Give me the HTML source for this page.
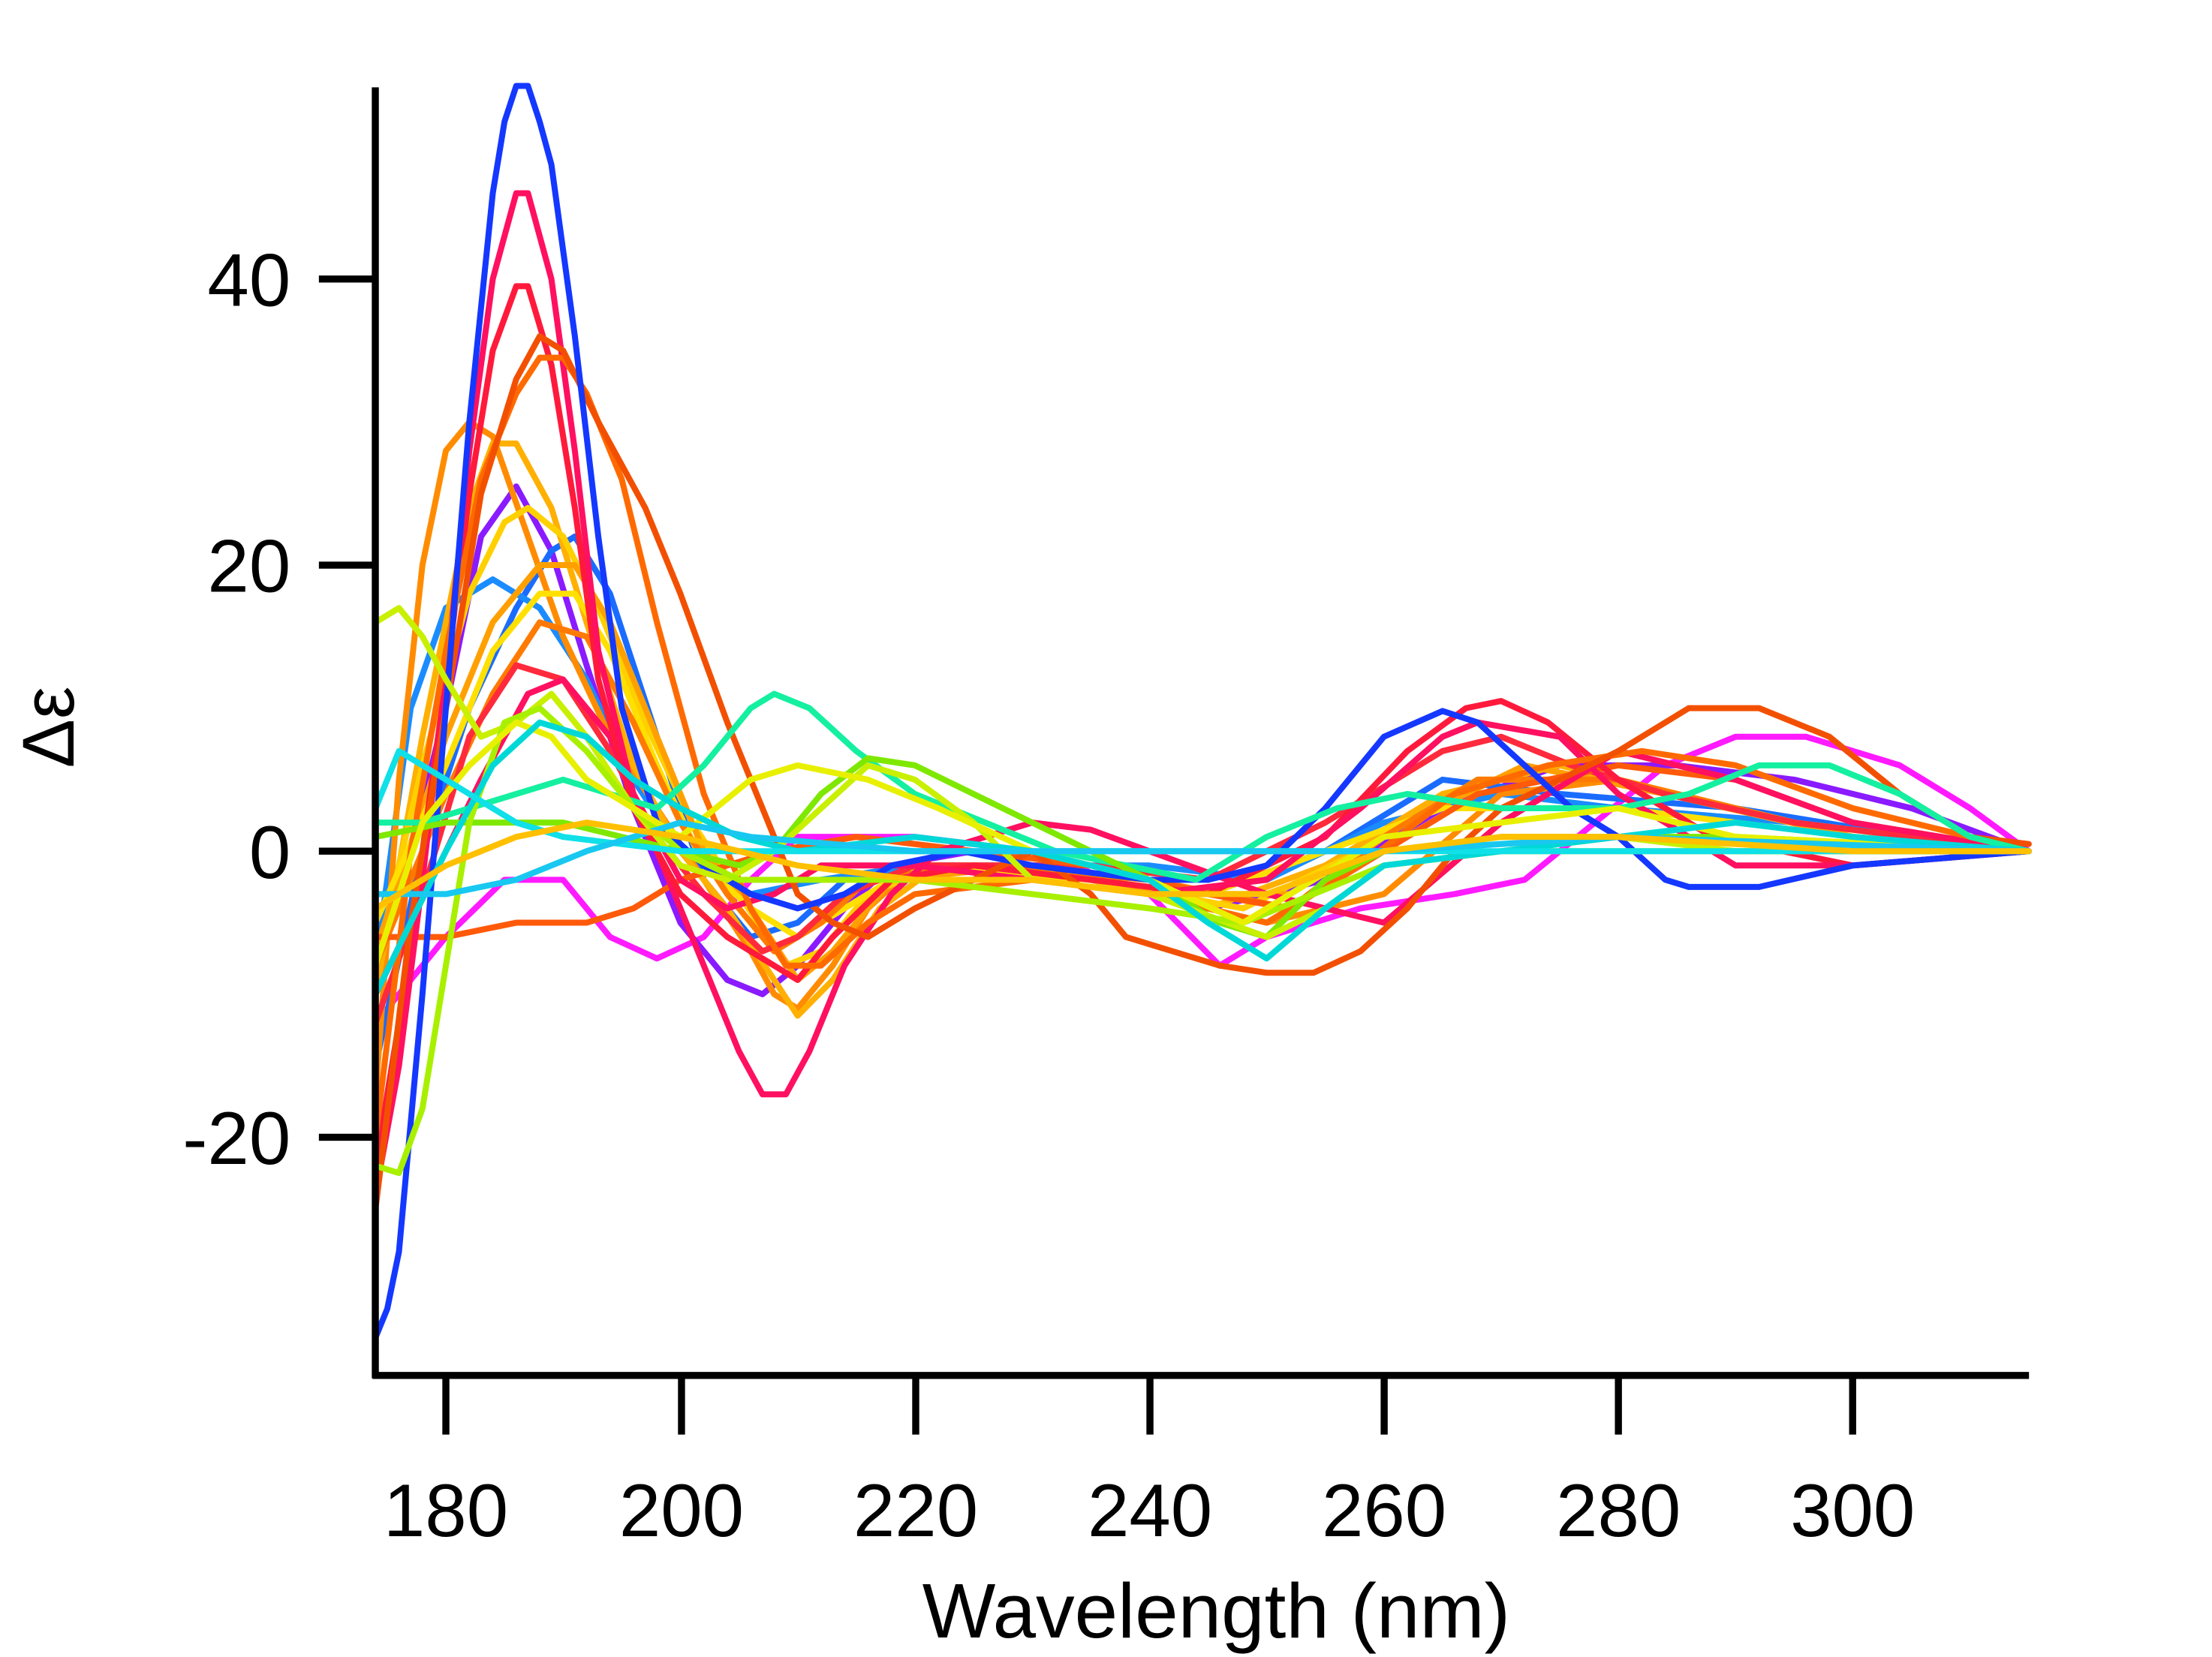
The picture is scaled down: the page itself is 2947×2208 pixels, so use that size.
<!DOCTYPE html>
<html><head><meta charset="utf-8"><style>
html,body{margin:0;padding:0;background:#fff}
svg{display:block}
text{font-family:"Liberation Sans",Arial,sans-serif;fill:#000}
</style></head><body>
<svg width="2947" height="2208" viewBox="0 0 1567.7 1175.8" preserveAspectRatio="none">
<rect width="1568" height="1176" fill="#fff"/>
<defs><clipPath id="c"><rect x="268" y="40" width="1172" height="934"/></clipPath></defs>
<g clip-path="url(#c)">
<g transform="translate(316,604) scale(8.31,-10.15)" fill="none" stroke-width="8" stroke-linejoin="round" stroke-linecap="round">
<polyline vector-effect="non-scaling-stroke" stroke="#ff1aff" points="-6,-12 0,-6 5,-2 10,-2 14,-6 18,-7.5 22,-6 26,-2 30,1 40,1 50,0 60,-3 66,-8 70,-6 78,-4 86,-3 92,-2 98,2 104,6 110,8 116,8 124,6 130,3 135,0"/>
<polyline vector-effect="non-scaling-stroke" stroke="#8a1aff" points="-6,-6 -3,0 0,10 3,22 6,25.5 9,21 12,13 16,3 20,-5 24,-9 27,-10 30,-8 34,-4 38,-1 45,0 55,-2 65,-4 75,-2 85,3 95,6 105,6 115,5 125,3 135,0"/>
<polyline vector-effect="non-scaling-stroke" stroke="#1a6cff" points="-6,-15 -2,0 2,10 6,17 9,21 11,22 14,18 18,8 22,-2 26,-6 30,-5 34,-2 40,-1 55,-1 65,-3 75,0 85,5 95,4 110,3 125,1 135,0"/>
<polyline vector-effect="non-scaling-stroke" stroke="#1a8cff" points="-6,-8 -3,10 0,17 4,19 8,17 12,12 16,5 20,0 26,-3 32,-2 40,-1 60,-1 70,-2 80,2 90,4 100,3 115,2 135,0"/>
<polyline vector-effect="non-scaling-stroke" stroke="#ff8c00" points="-6,-17 -4,5 -2,20 0,28 2,30 4,29 7,22 10,15 14,8 18,3 22,-2 26,-7 28,-10 30,-11 33,-8 36,-4 40,-1 50,-1 60,-3 70,-5 80,-3 90,4 100,5 110,3 120,1 135,0"/>
<polyline vector-effect="non-scaling-stroke" stroke="#ffb000" points="-6,-10 -2,8 2,24 4,28.5 6,28.5 9,24 12,16 16,6 20,0 24,-4 28,-9 30,-11.5 33,-9 37,-4 42,-1 55,-2 65,-4 75,-1 85,4 95,6 105,4 120,1 135,0"/>
<polyline vector-effect="non-scaling-stroke" stroke="#ffd000" points="-6,-8 -2,6 2,18 5,23 7,24 10,22 13,17 17,9 21,2 25,-3 29,-8 32,-7 36,-3 42,-1 55,-2 68,-4 78,0 88,5 100,5 115,2 135,0"/>
<polyline vector-effect="non-scaling-stroke" stroke="#ffa000" points="-6,-7 0,8 4,16 8,20 11,20 14,16 18,8 22,0 26,-4 30,-9 33,-7 38,-2 50,-1 62,-3 72,-3 82,2 92,6 104,4 120,1 135,0"/>
<polyline vector-effect="non-scaling-stroke" stroke="#ffe000" points="-6,-5 0,6 4,14 8,18 11,18 14,14 18,6 22,-1 26,-4 30,-6 34,-4 40,-1 55,-2 65,-3 75,0 85,3 100,3 120,1 135,0"/>
<polyline vector-effect="non-scaling-stroke" stroke="#ff7a00" points="-6,-8 0,4 4,11 8,16 12,15 16,9 20,2 24,-3 28,-7 32,-5 36,-2 45,-1 60,-2 72,-4 80,1 88,5 100,5 115,2 135,0"/>
<polyline vector-effect="non-scaling-stroke" stroke="#ff2a3c" points="-6,-12 -2,-3 2,8 6,13 10,12 14,7 18,1 22,-3 27,-7 30,-6 34,-3 40,-1 55,-1 65,-2 75,2 85,7 90,8 96,6 104,4 115,2 135,0"/>
<polyline vector-effect="non-scaling-stroke" stroke="#ff5a0a" points="-6,-6 0,-6 6,-5 12,-5 16,-4 20,-2 24,-1 28,0 35,1 45,0 55,-1 65,-3 72,-4 80,0 88,4 100,6 110,5 120,2 135,0"/>
<polyline vector-effect="non-scaling-stroke" stroke="#ff1060" points="-6,-10 -3,-5 0,0 3,5 7,11 10,12 14,8 18,0 22,-8 25,-14 27,-17 29,-17 31,-14 34,-8 38,-3 42,0 50,2 55,1.5 60,0 70,-3 80,-5 90,2 100,7 110,5 120,2 135,0"/>
<polyline vector-effect="non-scaling-stroke" stroke="#ff1a3c" points="-6,-22 -4,-12 -2,0 0,12 2,25 4,35 6,39.5 7,39.5 9,34 11,24 13,12 16,3 20,-3 24,-6 28,-8 30,-9 33,-6 38,-2 45,-1 55,-2 65,-3 75,1 82,7 87,10 90,10.5 94,9 100,5 108,1 120,-1 135,0"/>
<polyline vector-effect="non-scaling-stroke" stroke="#ff1060" points="-6,-24 -4,-15 -2,-2 0,12 2,28 4,40 6,46 7,46 9,40 11,28 13,14 16,4 20,-2 24,-4 28,-3 32,-1 40,-1 50,-2 60,-3 70,-2 78,3 85,8 88,9 95,8 100,4 110,-1 120,-1 135,0"/>
<polyline vector-effect="non-scaling-stroke" stroke="#ff6a00" points="-6,-20 -3,0 0,14 3,26 6,32 8,34.5 10,34.5 12,32 15,26 18,16 22,4 26,-4 29,-8 32,-8 36,-5 40,-3 50,-2 60,-3 70,-5 78,-1 86,4 94,6 102,7 110,6 120,3 135,0"/>
<polyline vector-effect="non-scaling-stroke" stroke="#f25000" points="-6,-25 -3,-5 0,10 3,25 6,33 8,36 10,35 13,30 17,24 20,18 24,9 28,1 30,-3 33,-5 36,-6 40,-4 45,-2 50,0 55,-3 58,-6 62,-7 66,-8 70,-8.5 74,-8.5 78,-7 82,-4 86,0 90,3 95,5 100,7 106,10 112,10 118,8 124,4 130,1 135,0.5"/>
<polyline vector-effect="non-scaling-stroke" stroke="#1438ff" points="-6,-34 -5,-32 -4,-28 -2,-10 0,10 2,30 4,46 5,51 6,53.5 7,53.5 8,51 9,48 11,36 13,22 15,10 18,2 22,-1 26,-3 30,-4 34,-3 38,-1 44,0 50,-1 60,-2 65,-2 70,-1 75,3 80,8 85,9.8 88,9 92,6 96,3 100,1 104,-2 106,-2.5 112,-2.5 120,-1 135,0"/>
<polyline vector-effect="non-scaling-stroke" stroke="#14f0a0" points="-6,2 -2,2 2,3 6,4 10,5 14,4 18,3 22,6 26,10 28,11 31,10 35,7 40,4 46,2 52,0 58,-1 64,-2 70,1 76,3 82,4 90,3 100,3 106,4 112,6 118,6 124,4 130,1 135,0"/>
<polyline vector-effect="non-scaling-stroke" stroke="#7fe800" points="-6,1 0,2 5,2 10,2 15,1 20,0 25,-1 28,0 32,4 36,6.5 40,6 45,4 50,2 55,0 60,-2 66,-5 70,-6 75,-2 80,0 90,1 110,1 135,0"/>
<polyline vector-effect="non-scaling-stroke" stroke="#c8f000" points="-6,16 -4,17 -2,15 0,12 3,8 6,9 9,11 12,8 16,3 20,-1 24,-2 28,0 32,3 36,6 40,5 45,2 50,-2 60,-3 70,-6 75,-4 80,-1 90,0 100,1 110,0 135,0"/>
<polyline vector-effect="non-scaling-stroke" stroke="#a8f000" points="-6,-22 -4,-22.5 -2,-18 0,-8 2,2 5,9 8,10 12,7 16,3 20,0 25,-2 30,-2 40,-2 50,-3 60,-4 68,-5 74,-3 80,-1 90,0 110,0 135,0"/>
<polyline vector-effect="non-scaling-stroke" stroke="#e8f000" points="-6,-8 -2,2 2,6 6,9 9,8 12,5 16,3 20,1 26,5 30,6 36,5 42,3 50,0 60,-2 68,-5 74,-2 80,1 90,2 100,3 110,1 135,0"/>
<polyline vector-effect="non-scaling-stroke" stroke="#00d8d8" points="-6,-10 -3,-5 0,0 4,6 8,9 12,8 16,5 20,3 25,1 30,0 40,1 50,0 60,-2 65,-5 70,-7.5 75,-4 80,-1 90,0 100,1 110,2 120,1 135,0"/>
<polyline vector-effect="non-scaling-stroke" stroke="#10e0e8" points="-6,3 -4,7 -2,6 2,4 6,2 10,1 20,0 30,0 60,0 100,0 135,0"/>
<polyline vector-effect="non-scaling-stroke" stroke="#18c8f0" points="-6,-3 0,-3 6,-2 12,0 20,2 26,1 40,0 80,0 100,1 135,0"/>
<polyline vector-effect="non-scaling-stroke" stroke="#ffc000" points="-6,-4 0,-1 6,1 12,2 20,1 30,-1 40,-2 50,-2 60,-3 70,-3 80,0 90,1 100,1 120,0 135,0"/>
</g></g>
<g stroke="#000" stroke-width="5" fill="none">
<line x1="266" y1="62" x2="266" y2="978"/>
<line x1="264" y1="976" x2="1438" y2="976"/>
<line x1="226" y1="198" x2="266" y2="198"/>
<line x1="226" y1="401" x2="266" y2="401"/>
<line x1="226" y1="604" x2="266" y2="604"/>
<line x1="226" y1="807" x2="266" y2="807"/>
<line x1="316" y1="976" x2="316" y2="1018"/>
<line x1="483" y1="976" x2="483" y2="1018"/>
<line x1="649" y1="976" x2="649" y2="1018"/>
<line x1="815" y1="976" x2="815" y2="1018"/>
<line x1="981" y1="976" x2="981" y2="1018"/>
<line x1="1147" y1="976" x2="1147" y2="1018"/>
<line x1="1313" y1="976" x2="1313" y2="1018"/>
</g>
<g font-size="53" text-anchor="end">
<text x="206" y="217">40</text>
<text x="206" y="420">20</text>
<text x="206" y="623">0</text>
<text x="206" y="826">-20</text>
</g>
<g font-size="53" text-anchor="middle">
<text x="316" y="1090">180</text>
<text x="483" y="1090">200</text>
<text x="649" y="1090">220</text>
<text x="815" y="1090">240</text>
<text x="981" y="1090">260</text>
<text x="1147" y="1090">280</text>
<text x="1313" y="1090">300</text>
<text x="862" y="1162" font-size="55">Wavelength (nm)</text>
</g>
<text x="0" y="0" font-size="52" text-anchor="middle" transform="translate(52,516) rotate(-90)">Δε</text>
</svg>
</body></html>
